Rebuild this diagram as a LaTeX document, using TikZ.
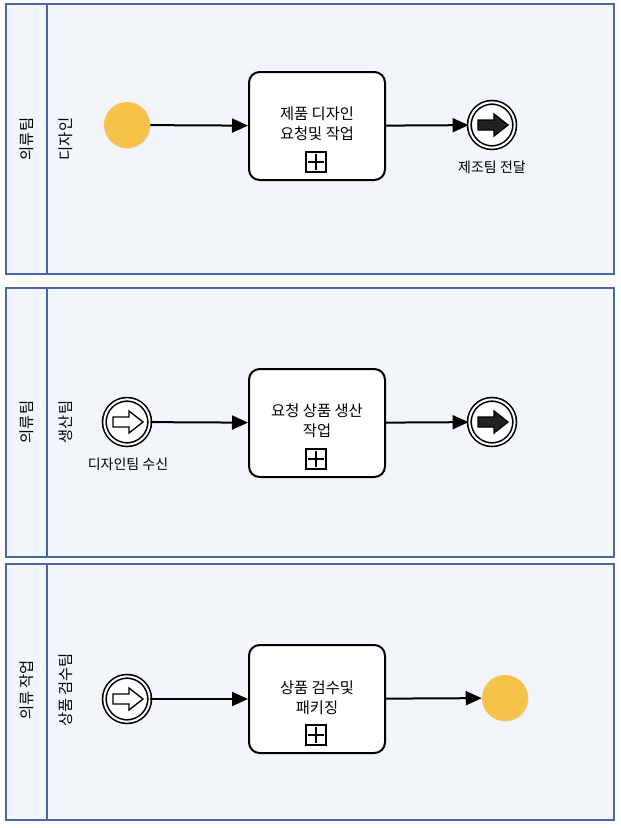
\documentclass[tikz,border=0pt]{standalone}
\usepackage{fontspec}
\setmainfont{Noto Sans CJK KR}
\usepackage{tikz}
\usetikzlibrary{arrows.meta,shadows}

\definecolor{poolfill}{HTML}{F2F5FA}
\definecolor{poolline}{HTML}{4A64A8}
\definecolor{evyellow}{HTML}{F6C24A}
\definecolor{arrowdark}{HTML}{222222}

\tikzset{
  pool/.style={draw=poolline, fill=poolfill, line width=1.5pt},
  lanelabel/.style={rotate=90, font=\fontsize{11.5}{13}\selectfont},
  task/.style={draw, fill=white, rounded corners=8pt, line width=1.5pt,
    minimum width=102pt, minimum height=81pt, align=center,
    font=\fontsize{11.5}{15}\selectfont},
  plainev/.style={circle, fill=evyellow, minimum size=34.5pt, inner sep=0pt,
    drop shadow={opacity=0.18, shadow xshift=0.6pt, shadow yshift=-0.6pt}},
  linkev/.style={circle, draw, fill=white, line width=1.2pt, double=white,
    double distance=1.5pt, minimum size=34pt, inner sep=0pt},
  evlabel/.style={font=\fontsize{10.5}{12}\selectfont},
  flow/.style={line width=1.5pt, -{Triangle[length=12pt, width=10.5pt]}}
}

\newcommand{\linkarrow}[2]{%
  \draw[line width=1pt, fill=#2, shift={(#1)}]
    (-14,-5) -- (2,-5) -- (2,-11) -- (16,0) -- (2,11) -- (2,5) -- (-14,5) -- cycle;}
\newcommand{\plusmark}[1]{%
  \draw[line width=1.3pt, shift={(#1)}] (-10,-10) rectangle (10,10) (-8,0) -- (8,0) (0,-8) -- (0,8);}

\begin{document}
\begin{tikzpicture}[x=0.75pt, y=-0.75pt]
  \useasboundingbox (0,0) rectangle (621,828);

  % pools and lanes
  \draw[pool] (6,4) rectangle (614,274);
  \draw[poolline, line width=1.5pt] (47,4) -- (47,274);
  \draw[pool] (6,288) rectangle (614,557);
  \draw[poolline, line width=1.5pt] (47,288) -- (47,557);
  \draw[pool] (6,564) rectangle (614,820);
  \draw[poolline, line width=1.5pt] (47,564) -- (47,820);

  \node[lanelabel] (p1) at (27,139) {의류팀};
  \node[lanelabel] (l1) at (66,139) {디자인};
  \node[lanelabel] (p2) at (27,422) {의류팀};
  \node[lanelabel] (l2) at (66,422) {생산팀};
  \node[lanelabel] (p3) at (27,690) {의류 작업};
  \node[lanelabel] (l3) at (66,690) {상품 검수팀};

  % first lane
  \node[plainev] (s1) at (127,125) {};
  \node[task] (t1) at (317,126) {};
  \node (t1txt) at (317,124) [align=center, font=\fontsize{11.5}{15}\selectfont] {제품 디자인\\요청및 작업};
  \node[linkev] (e1) at (492,125) {};
  \node[evlabel] (e1l) at (492,167) {제조팀 전달};
  \linkarrow{e1}{arrowdark}
  \plusmark{316,162}
  \draw[flow] (s1) -- (t1);
  \draw[flow] (t1) -- (e1);

  % second lane
  \node[linkev] (s2) at (127,422) {};
  \node[evlabel] (s2l) at (128,464) {디자인팀 수신};
  \linkarrow{s2}{white}
  \node[task] (t2) at (317,423) {};
  \node (t2txt) at (317,421) [align=center, font=\fontsize{11.5}{15}\selectfont] {요청 상품 생산\\작업};
  \node[linkev] (e2) at (492,422) {};
  \linkarrow{e2}{arrowdark}
  \plusmark{316,459}
  \draw[flow] (s2) -- (t2);
  \draw[flow] (t2) -- (e2);

  % third lane
  \node[linkev] (s3) at (127,699) {};
  \linkarrow{s3}{white}
  \node[task] (t3) at (317,699) {};
  \node (t3txt) at (317,698) [align=center, font=\fontsize{11.5}{15}\selectfont] {상품 검수및\\패키징};
  \node[plainev] (e3) at (505,698) {};
  \plusmark{316,735}
  \draw[flow] (s3) -- (t3);
  \draw[flow] (t3) -- (e3);
\end{tikzpicture}
\end{document}
